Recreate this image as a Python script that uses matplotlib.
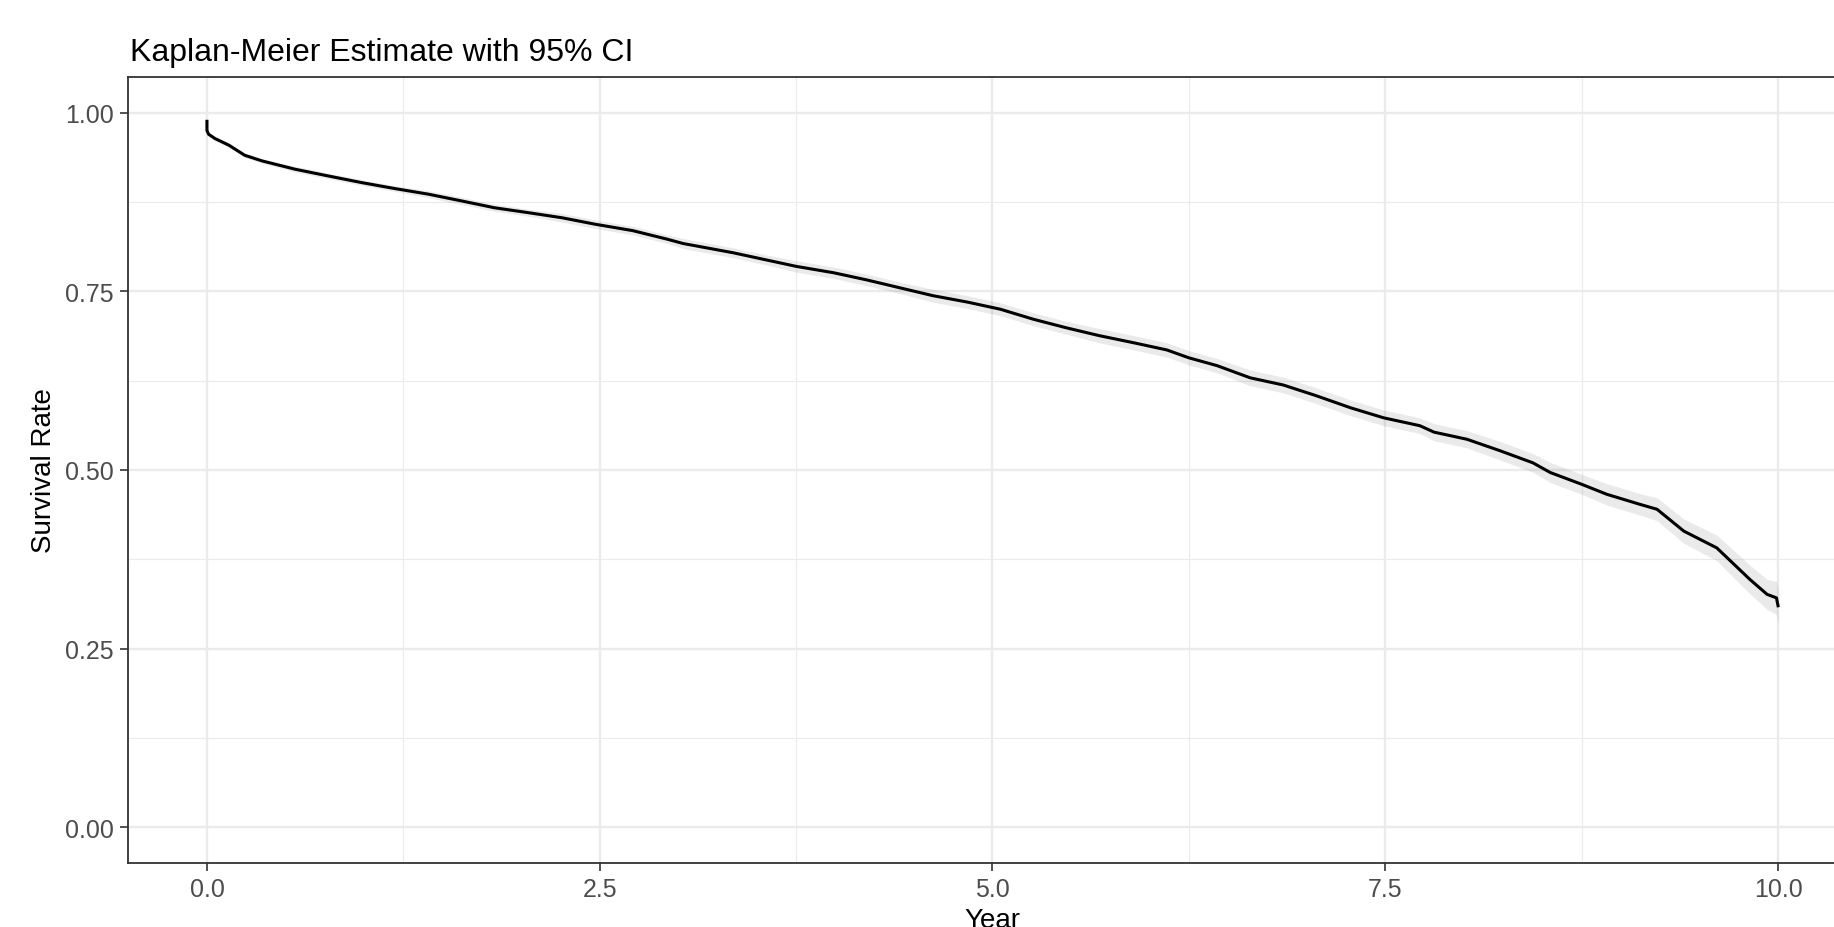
"""
Kaplan-Meier survival curve with 95% confidence band
"""

import numpy as np
from matplotlib import pyplot as plt

# --------------------------------------------------------------------------------------------------
# Data
# --------------------------------------------------------------------------------------------------

years = [0.0, 0.0, 0.01, 0.05, 0.14, 0.24, 0.35, 0.56, 0.77, 0.99,
         1.20, 1.41, 1.62, 1.83, 2.05, 2.26, 2.47, 2.71, 2.93, 3.03,
         3.35, 3.56, 3.75, 3.99, 4.20, 4.41, 4.62, 4.84, 5.05, 5.26,
         5.47, 5.68, 5.90, 6.11, 6.25, 6.43, 6.64, 6.85, 7.06, 7.28,
         7.49, 7.72, 7.81, 8.02, 8.23, 8.44, 8.55, 8.75, 8.91, 9.12,
         9.23, 9.40, 9.61, 9.72, 9.82, 9.93, 9.99, 10.0]

survival = [0.988, 0.975, 0.970, 0.964, 0.9545, 0.9405, 0.9326, 0.921, 0.9116, 0.902,
            0.8937, 0.886, 0.8766, 0.867, 0.860, 0.853, 0.844, 0.835, 0.823, 0.817,
            0.804, 0.794, 0.785, 0.776, 0.766, 0.755, 0.744, 0.735, 0.725, 0.711,
            0.699, 0.688, 0.678, 0.668, 0.657, 0.646, 0.629, 0.619, 0.604, 0.587,
            0.573, 0.562, 0.553, 0.543, 0.527, 0.510, 0.4965, 0.480, 0.466, 0.452,
            0.445, 0.4145, 0.391, 0.368, 0.347, 0.326, 0.321, 0.310]

# half width of the 95% CI band
ci_half = [0.001, 0.002, 0.002, 0.003, 0.003, 0.003, 0.003, 0.004, 0.004, 0.004,
           0.004, 0.005, 0.005, 0.005, 0.005, 0.006, 0.006, 0.006, 0.006, 0.007,
           0.007, 0.007, 0.008, 0.008, 0.008, 0.008, 0.009, 0.009, 0.009, 0.009,
           0.009, 0.010, 0.010, 0.010, 0.010, 0.010, 0.011, 0.011, 0.011, 0.011,
           0.011, 0.011, 0.012, 0.012, 0.013, 0.013, 0.014, 0.014, 0.015, 0.015,
           0.016, 0.017, 0.018, 0.019, 0.020, 0.021, 0.023, 0.025]

x_major = [0.0, 2.5, 5.0, 7.5, 10.0]
x_minor = [1.25, 3.75, 6.25, 8.75]
y_major = [0.0, 0.25, 0.5, 0.75, 1.0]
y_minor = [0.125, 0.375, 0.625, 0.875]

# --------------------------------------------------------------------------------------------------
# Plot
# --------------------------------------------------------------------------------------------------

plt.rcParams['font.family'] = ['Liberation Sans', 'DejaVu Sans']

W, H = 1834, 928
fig = plt.figure(figsize=(W / 100, H / 100), dpi=100)
ax = fig.add_axes([128.4 / W, (H - 864) / H, (1856.6 - 128.4) / W, (864 - 78) / H])

t = np.array(years)
s = np.array(survival)
h = np.array(ci_half)

ax.fill_between(t, s - h, s + h, color='#333333', alpha=0.1, linewidth=0, zorder=2)
ax.plot(t, s, color='black', linewidth=2.2, zorder=3)

ax.set_xlim(-0.5, 10.5)
ax.set_ylim(-0.05, 1.05)
ax.set_xticks(x_major)
ax.set_xticks(x_minor, minor=True)
ax.set_yticks(y_major)
ax.set_yticks(y_minor, minor=True)
ax.set_xticklabels(['0.0', '2.5', '5.0', '7.5', '10.0'])
ax.set_yticklabels(['0.00', '0.25', '0.50', '0.75', '1.00'])

ax.grid(which='major', color='#EBEBEB', linewidth=1.7, zorder=0)
ax.grid(which='minor', color='#EBEBEB', linewidth=0.85, zorder=0)
ax.set_axisbelow(True)

ax.tick_params(which='major', length=5.8, width=1.2, color='#333333',
               labelsize=18, labelcolor='#4D4D4D', pad=4.5)
ax.tick_params(which='minor', length=0)
for sp in ax.spines.values():
    sp.set_color('#333333')
    sp.set_linewidth(1.3)

ax.set_xlabel('Year', fontsize=20, labelpad=4)
ax.set_ylabel('Survival Rate', fontsize=20, labelpad=6)

fig.text(130 / W, 1 - 61 / H, 'Kaplan-Meier Estimate with 95% CI', fontsize=23,
         ha='left', va='baseline')

fig.savefig('out.png', dpi=100)
